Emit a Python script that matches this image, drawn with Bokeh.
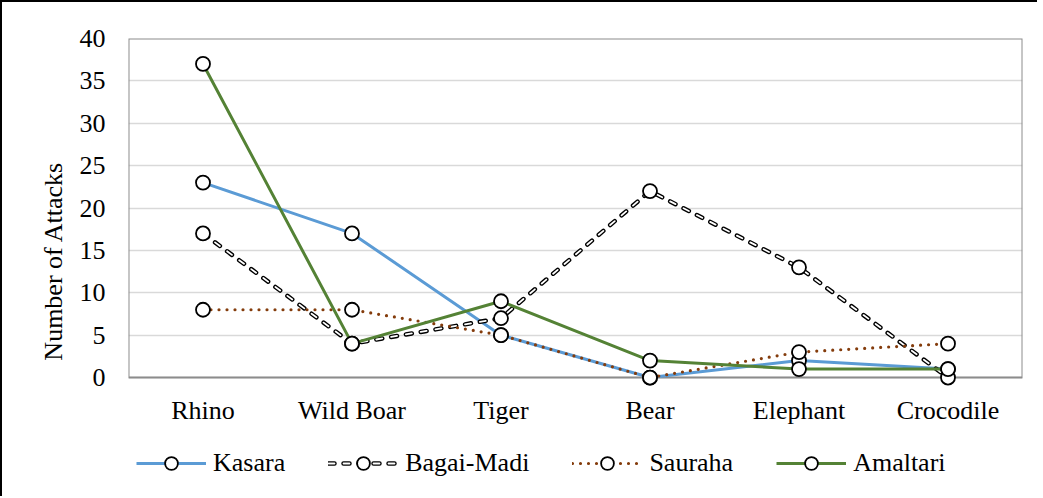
from bokeh.plotting import figure
from bokeh.models import (ColumnDataSource, Range1d, FixedTicker,
                          Legend, LegendItem)
from bokeh.core.properties import value
from bokeh.embed import file_html
from bokeh.resources import INLINE

categories = ["Rhino", "Wild Boar", "Tiger", "Bear", "Elephant", "Crocodile"]
kasara = [23, 17, 5, 0, 2, 1]
bagai_madi = [17, 4, 7, 22, 13, 0]
sauraha = [8, 8, 5, 0, 3, 4]
amaltari = [37, 4, 9, 2, 1, 1]
y_ticks = [0, 5, 10, 15, 20, 25, 30, 35, 40]

FONT = "Liberation Serif"
FS = "26px"
Y_MAX = y_ticks[-1]
Y_BOTTOM = -12.5      # extra room under the plot area for labels and legend
XLABEL_Y = -3.9       # vertical position of the category labels

# category centres on a numeric axis (0.5, 1.5, ...)
xpos = [i + 0.5 for i in range(len(categories))]
ncat = len(categories)

p = figure(x_range=Range1d(0, ncat),
           y_range=Range1d(Y_BOTTOM, Y_MAX),
           frame_width=894, frame_height=445,
           min_border_left=126, min_border_right=15,
           min_border_top=36, min_border_bottom=13,
           output_backend="svg", toolbar_location=None)
p.styles = {"border-left": "2px solid black", "border-top": "2px solid black"}
p.outline_line_color = None
p.background_fill_color = "white"
p.border_fill_color = "white"

p.xgrid.grid_line_color = None
p.ygrid.grid_line_color = "#d9d9d9"
p.ygrid.grid_line_width = 1.5
p.yaxis.ticker = FixedTicker(ticks=y_ticks)
p.yaxis.bounds = (0, Y_MAX)
p.xaxis.visible = False

ax = p.yaxis
ax.axis_line_color = None
ax.major_tick_line_color = None
ax.minor_tick_line_color = None
ax.major_tick_out = 0
ax.major_tick_in = 0
ax.minor_tick_out = 0
ax.minor_tick_in = 0
ax.major_label_text_font = FONT
ax.major_label_text_font_size = FS
ax.major_label_text_color = "black"
ax.axis_label = "Number of Attacks"
ax.axis_label_text_font = FONT
ax.axis_label_text_font_size = FS
ax.axis_label_text_font_style = "normal"
ax.axis_label_text_color = "black"
ax.major_label_standoff = 23
ax.axis_label_standoff = 9

# plot-area border (0..40 on y, whole category span on x)
p.quad(left=[0], right=[ncat], bottom=[0], top=[Y_MAX],
       fill_color=None, line_color="#8c8c8c", line_width=2)

# category labels
p.text(x=xpos, y=[XLABEL_Y] * ncat, text=categories,
       text_font=value(FONT), text_font_size=value(FS), text_color="black",
       text_align="center", text_baseline="middle")

src = ColumnDataSource(dict(x=xpos, kasara=kasara, bagai=bagai_madi,
                            sauraha=sauraha, amaltari=amaltari))

def markers(col):
    return p.scatter("x", col, source=src, size=14, fill_color="white",
                     line_color="black", line_width=1.8)

r1 = p.line("x", "kasara", source=src, line_color="#5b9bd5", line_width=3)
m1 = markers("kasara")

r2a = p.line("x", "bagai", source=src, line_color="black", line_width=4.5,
             line_dash="6 9", line_cap="round")
r2b = p.line("x", "bagai", source=src, line_color="white", line_width=1.8,
             line_dash="6 9", line_cap="round")
m2 = markers("bagai")

r3 = p.line("x", "sauraha", source=src, line_color="#843c0c", line_width=3.2,
            line_dash="0 8", line_cap="round")
m3 = markers("sauraha")

r4 = p.line("x", "amaltari", source=src, line_color="#548235", line_width=3)
m4 = markers("amaltari")

legend = Legend(items=[
    LegendItem(label="Kasara", renderers=[r1, m1]),
    LegendItem(label="Bagai-Madi", renderers=[r2a, r2b, m2]),
    LegendItem(label="Sauraha", renderers=[r3, m3]),
    LegendItem(label="Amaltari", renderers=[r4, m4]),
], orientation="horizontal", location=(8, 4))
legend.glyph_width = 70
legend.glyph_height = 32
legend.label_height = 20
legend.label_standoff = 7
legend.spacing = 43
legend.padding = 0
legend.margin = 0
legend.border_line_color = None
legend.background_fill_alpha = 0
legend.label_text_font = FONT
legend.label_text_font_size = FS
legend.label_text_color = "black"
p.add_layout(legend, "center")

open("out.html", "w").write(file_html(p, INLINE))
